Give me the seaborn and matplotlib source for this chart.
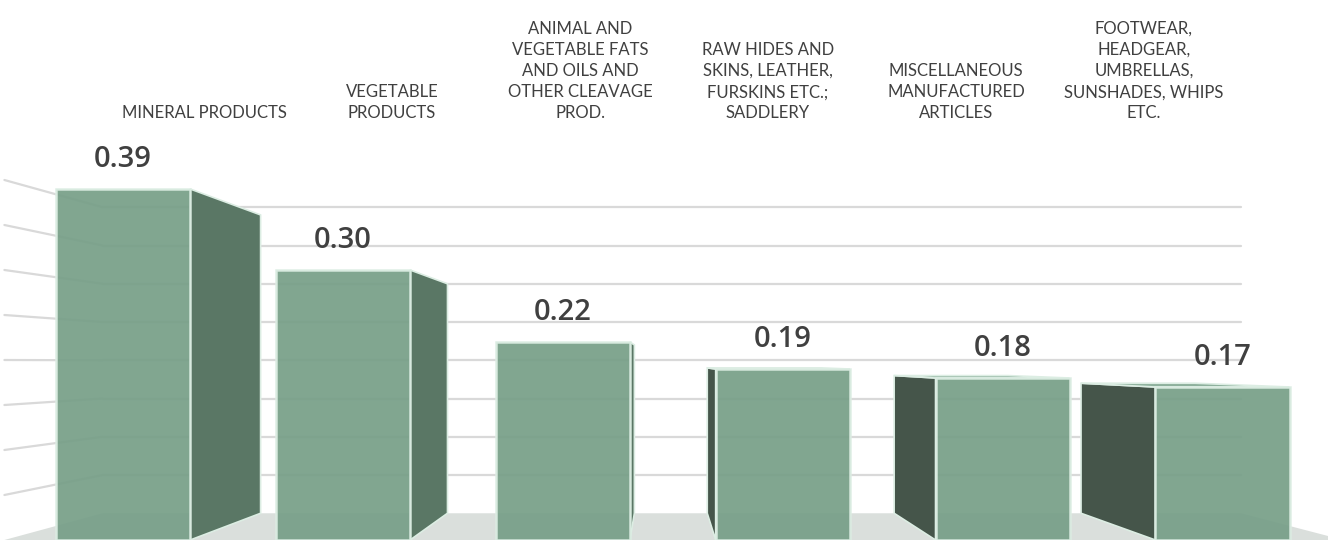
import matplotlib
matplotlib.use('Agg')
import matplotlib.pyplot as plt
import seaborn as sns
from matplotlib.patches import Polygon

categories = ['MINERAL PRODUCTS', 'VEGETABLE PRODUCTS', 'ANIMAL AND VEGETABLE FATS AND OILS',
              'RAW HIDES AND SKINS', 'MISCELLANEOUS MANUFACTURED ARTICLES', 'FOOTWEAR, HEADGEAR']
values = [0.39, 0.30, 0.22, 0.19, 0.18, 0.17]
tick_labels = ['MINERAL PRODUCTS',
               'VEGETABLE\nPRODUCTS',
               'ANIMAL AND\nVEGETABLE FATS\nAND OILS AND\nOTHER CLEAVAGE\nPROD.',
               'RAW HIDES AND\nSKINS, LEATHER,\nFURSKINS ETC.;\nSADDLERY',
               'MISCELLANEOUS\nMANUFACTURED\nARTICLES',
               'FOOTWEAR,\nHEADGEAR,\nUMBRELLAS,\nSUNSHADES, WHIPS\nETC.']
grid_values = [0.05, 0.10, 0.15, 0.20, 0.25, 0.30, 0.35, 0.40]

# fake 3d: everything recedes toward a vanishing point by DEPTH
VX, VY = 2.44, 0.198
DEPTH = 0.15
WALL_L, WALL_R = -0.54, 5.55

FRONT = '#779F88'
SIDE_R = '#5A7765'
SIDE_L = '#45554A'
EDGE = '#DCEDE3'
GRID = '#D9D9D9'
TEXT = '#404040'


def back(x, y):
    return x + DEPTH * (VX - x), y + DEPTH * (VY - y)


sns.set_style('white')
fig = plt.figure(figsize=(13.28, 5.4), dpi=100)
ax = fig.add_axes([0, 0, 1, 1])

sns.barplot(x=categories, y=values, color=FRONT, saturation=1, width=0.61,
            edgecolor=EDGE, linewidth=1.8, alpha=0.93, zorder=3, ax=ax)
bars = list(ax.containers[0])

# floor
floor = [(WALL_L, 0), (WALL_R, 0), back(WALL_R, 0), back(WALL_L, 0)]
ax.add_patch(Polygon(floor, closed=True, facecolor='#DADFDC', edgecolor='none', zorder=0))

# back wall and left wall gridlines
for v in grid_values:
    bl = back(WALL_L, v)
    br = back(WALL_R, v)
    ax.plot([bl[0], br[0]], [bl[1], br[1]], color=GRID, lw=1.6, zorder=0.5)
    ax.plot([WALL_L, bl[0]], [v, bl[1]], color=GRID, lw=1.6, zorder=0.5)

for p in bars:
    x0, x1 = p.get_x(), p.get_x() + p.get_width()
    h = p.get_height()
    # visible side face
    if x1 < VX:
        xe, col = x1, SIDE_R
    else:
        xe, col = x0, SIDE_L
    side = [(xe, 0), (xe, h), back(xe, h), back(xe, 0)]
    ax.add_patch(Polygon(side, closed=True, facecolor=col, edgecolor=EDGE, lw=1.2, zorder=2))
    # top face only visible for bars below eye level
    if h < VY:
        top = [(x0, h), (x1, h), back(x1, h), back(x0, h)]
        ax.add_patch(Polygon(top, closed=True, facecolor='#8DB09C', edgecolor=EDGE, lw=1.2, zorder=2))
    ax.annotate(f'{h:.2f}', (p.get_x() + p.get_width() / 2, h), xytext=(0, 16),
                textcoords='offset points', ha='center', va='baseline',
                fontsize=21, fontweight='semibold', family=['Open Sans', 'DejaVu Sans'], color=TEXT)

# category labels along the back
for i, lab in enumerate(tick_labels):
    ax.text(0.368 + i * 0.855, 0.465, lab, ha='center', va='bottom', fontsize=12,
            family=['Lato', 'DejaVu Sans'], color=TEXT, linespacing=1.4)

ax.set_xlim(-0.56, 5.48)
ax.set_ylim(0, 0.6)
ax.axis('off')
fig.savefig('out.png', dpi=100)
